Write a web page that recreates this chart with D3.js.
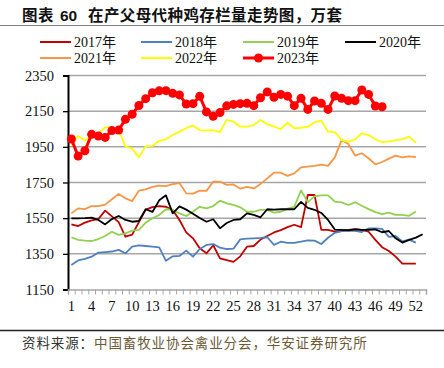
<!DOCTYPE html>
<html>
<head>
<meta charset="utf-8">
<script src="https://cdn.jsdelivr.net/npm/d3@7"></script>
<style>
  body { margin: 0; background: #fff; }
  svg { display: block; }
</style>
</head>
<body>
<svg id="chart" width="444" height="368"></svg>
<script>
// weekly values, 万套
const years = ['2017年', '2018年', '2019年', '2020年', '2021年', '2022年', '2023年'];
const yTicks = [1150, 1350, 1550, 1750, 1950, 2150, 2350];
const xTickLabels = [1, 4, 7, 10, 13, 16, 19, 22, 25, 28, 31, 34, 37, 40, 43, 46, 49, 52];

const s2017 = [1515, 1506, 1525, 1538, 1545, 1592, 1560, 1528, 1446, 1458, 1528, 1598, 1612, 1618, 1614, 1596, 1540, 1470, 1437, 1381, 1353, 1398, 1325, 1315, 1305, 1336, 1390, 1394, 1430, 1450, 1470, 1483, 1500, 1513, 1500, 1680, 1680, 1484, 1484, 1475, 1478, 1484, 1488, 1484, 1474, 1428, 1387, 1366, 1334, 1295, 1295, 1295];
const s2018 = [1288, 1313, 1322, 1334, 1357, 1360, 1363, 1372, 1353, 1390, 1398, 1394, 1390, 1386, 1311, 1336, 1338, 1368, 1334, 1377, 1400, 1405, 1385, 1377, 1379, 1431, 1435, 1437, 1439, 1443, 1400, 1418, 1412, 1412, 1418, 1425, 1424, 1405, 1440, 1468, 1478, 1480, 1479, 1472, 1493, 1493, 1490, 1445, 1450, 1420, 1430, 1413];
const s2019 = [1443, 1428, 1424, 1422, 1433, 1450, 1474, 1456, 1465, 1480, 1484, 1525, 1549, 1568, 1600, 1596, 1577, 1562, 1586, 1614, 1605, 1618, 1648, 1633, 1624, 1611, 1586, 1586, 1596, 1596, 1581, 1586, 1603, 1614, 1706, 1640, 1672, 1678, 1678, 1643, 1639, 1624, 1639, 1620, 1601, 1584, 1573, 1581, 1568, 1568, 1563, 1587];
const s2020 = [1549, 1549, 1550, 1553, 1540, 1515, 1545, 1562, 1540, 1530, 1534, 1600, 1585, 1650, 1678, 1577, 1616, 1598, 1575, 1551, 1530, 1544, 1493, 1523, 1540, 1544, 1577, 1568, 1555, 1600, 1598, 1600, 1600, 1600, 1641, 1608, 1597, 1579, 1540, 1486, 1484, 1482, 1487, 1484, 1484, 1487, 1471, 1478, 1437, 1413, 1428, 1441, 1460];
const s2021 = [1577, 1605, 1601, 1618, 1618, 1626, 1656, 1686, 1661, 1646, 1704, 1712, 1725, 1732, 1730, 1741, 1747, 1689, 1688, 1704, 1703, 1755, 1755, 1737, 1739, 1715, 1725, 1717, 1742, 1773, 1805, 1805, 1787, 1801, 1835, 1839, 1843, 1850, 1843, 1891, 1988, 1966, 1901, 1914, 1886, 1852, 1865, 1884, 1901, 1891, 1897, 1893];
const s2022 = [1958, 2011, 1985, 2014, 2026, 2059, 2059, 2046, 1953, 1940, 1891, 1954, 1955, 1984, 1992, 2016, 2035, 2054, 2070, 2044, 2042, 2044, 2033, 2101, 2091, 2063, 2063, 2072, 2101, 2077, 2063, 2049, 2085, 2054, 2057, 2063, 2087, 2097, 2035, 2033, 1988, 1979, 1992, 2026, 2016, 1992, 1977, 1979, 1988, 1992, 2007, 1972];
const s2023 = [1994, 1898, 1928, 2020, 2011, 2003, 2041, 2044, 2104, 2133, 2182, 2220, 2253, 2264, 2265, 2250, 2241, 2190, 2192, 2233, 2146, 2121, 2142, 2180, 2188, 2192, 2194, 2181, 2225, 2258, 2228, 2244, 2234, 2181, 2222, 2160, 2207, 2194, 2160, 2235, 2222, 2209, 2209, 2269, 2244, 2179, 2175];

const series = [s2017, s2018, s2019, s2020, s2021, s2022, s2023];
const colors = ['#C00000', '#4F81BD', '#92D050', '#000000', '#F79646', '#FFFF00', '#FF0000'];

const svg = d3.select('#chart');
const plotLeft = 68, plotRight = 426, plotTop = 75.5, plotBottom = 289.5;
const serif = '"Liberation Serif", "Times New Roman", "Noto Sans CJK SC", serif';

const x = d3.scaleLinear().domain([0.5, 53.5]).range([plotLeft, plotRight]);
const y = d3.scaleLinear().domain([1150, 2350]).range([plotBottom, plotTop]);

// title (three pieces, spaced like the original)
const title = svg.append('text')
  .attr('y', 21)
  .attr('font-family', '"Noto Sans CJK SC", sans-serif')
  .attr('font-size', 15.5).attr('font-weight', 'bold')
  .attr('fill', '#111');
title.append('tspan').attr('x', 22).attr('letter-spacing', 0.4).text('图表');
title.append('tspan').attr('x', 60).attr('font-family', '"Liberation Sans", Arial, sans-serif').text('60');
title.append('tspan').attr('x', 88).attr('letter-spacing', 0.4).text('在产父母代种鸡存栏量走势图，万套');
svg.append('line')
  .attr('x1', 0).attr('x2', 444).attr('y1', 25.5).attr('y2', 25.5)
  .attr('stroke', '#7f7f7f').attr('stroke-width', 1.2);

// gridlines
svg.append('g').selectAll('line')
  .data(yTicks.slice(1))
  .join('line')
  .attr('x1', plotLeft).attr('x2', plotRight)
  .attr('y1', d => y(d)).attr('y2', d => y(d))
  .attr('stroke', '#a6a6a6').attr('stroke-width', 1.5);

// y axis
const yAxis = svg.append('g')
  .attr('transform', `translate(${plotLeft},0)`)
  .call(d3.axisLeft(y).tickValues(yTicks).tickSize(5).tickPadding(9).tickFormat(d3.format('d')));
yAxis.select('.domain').attr('stroke', '#000').attr('stroke-width', 2);
yAxis.selectAll('.tick line').attr('stroke', '#000').attr('stroke-width', 1.3);
yAxis.selectAll('text').attr('font-family', serif).attr('font-size', 14.5).attr('fill', '#111');

// x axis: boundary ticks, labels every 3 weeks
const bounds = d3.range(0, 54).map(i => i + 0.5);
const xAxis = svg.append('g')
  .attr('transform', `translate(0,${plotBottom})`)
  .call(d3.axisBottom(x).tickValues(bounds).tickSize(5).tickFormat(''));
xAxis.select('.domain').attr('stroke', '#a6a6a6').attr('stroke-width', 1.5);
xAxis.selectAll('.tick line').attr('stroke', '#a6a6a6').attr('stroke-width', 1);

svg.append('g').selectAll('text')
  .data(xTickLabels)
  .join('text')
  .attr('x', d => x(d)).attr('y', plotBottom + 21)
  .attr('text-anchor', 'middle')
  .attr('font-family', serif).attr('font-size', 14.5).attr('fill', '#111')
  .text(d => d);

// lines
const line = d3.line()
  .x((d, i) => x(i + 1))
  .y(d => y(d));

series.forEach((s, k) => {
  svg.append('path')
    .datum(s)
    .attr('d', line)
    .attr('fill', 'none')
    .attr('stroke', colors[k])
    .attr('stroke-width', k === 6 ? 3 : 1.8)
    .attr('stroke-linejoin', 'round');
});

svg.append('g').selectAll('circle')
  .data(s2023)
  .join('circle')
  .attr('cx', (d, i) => x(i + 1)).attr('cy', d => y(d))
  .attr('r', 4.5).attr('fill', '#FF0000');

// legend
const legendX = [40, 141, 243, 345];
const legend = svg.append('g');
years.forEach((name, k) => {
  const lx = legendX[k % 4];
  const ly = k < 4 ? 42 : 58;
  legend.append('line')
    .attr('x1', lx).attr('x2', lx + 31).attr('y1', ly).attr('y2', ly)
    .attr('stroke', colors[k]).attr('stroke-width', k === 6 ? 3 : 2);
  if (k === 6) {
    legend.append('circle').attr('cx', lx + 15.5).attr('cy', ly).attr('r', 4.5).attr('fill', colors[k]);
  }
  legend.append('text')
    .attr('x', lx + 34).attr('y', ly + 5)
    .attr('font-family', serif).attr('font-size', 14).attr('fill', '#111')
    .text(name);
});

// source
svg.append('line')
  .attr('x1', 0).attr('x2', 444).attr('y1', 330.5).attr('y2', 330.5)
  .attr('stroke', '#222').attr('stroke-width', 1.3);
const src = svg.append('text')
  .attr('x', 22).attr('y', 348)
  .attr('font-family', '"Noto Sans CJK SC", sans-serif')
  .attr('font-size', 13.5).attr('letter-spacing', 0.9);
src.append('tspan').attr('fill', '#333').text('资料来源：');
src.append('tspan').attr('fill', '#6b5a36').text('中国畜牧业协会禽业分会，华安证券研究所');
</script>
</body>
</html>
